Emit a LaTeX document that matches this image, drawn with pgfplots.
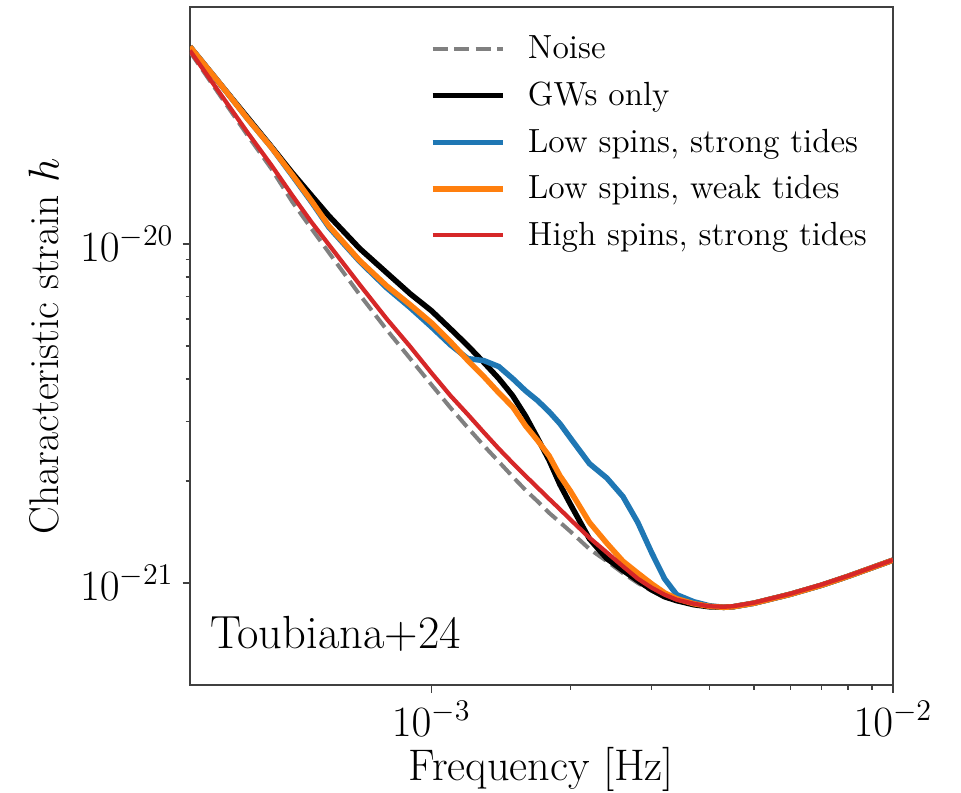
\documentclass[border=0pt]{standalone}
\usepackage{pgfplots}
\pgfplotsset{compat=1.18}
\usepackage{pgfplotstable}

\definecolor{tabblue}{HTML}{1F77B4}
\definecolor{taborange}{HTML}{FF7F0E}
\definecolor{tabred}{HTML}{D62728}
\definecolor{noisegray}{RGB}{128,128,128}

\pgfplotstableread{
f h
3e-4 3.69e-20
3.5e-4 2.72e-20
4e-4 2.09e-20
4.5e-4 1.67e-20
5e-4 1.33e-20
5.5e-4 1.11e-20
6e-4 9.43e-21
7e-4 7.08e-21
8e-4 5.59e-21
9e-4 4.59e-21
1e-3 3.85e-21
1.1e-3 3.29e-21
1.2e-3 2.87e-21
1.3e-3 2.54e-21
1.4e-3 2.28e-21
1.5e-3 2.06e-21
1.6e-3 1.88e-21
1.7e-3 1.74e-21
1.8e-3 1.61e-21
1.9e-3 1.51e-21
2.0e-3 1.42e-21
2.2e-3 1.26e-21
2.4e-3 1.16e-21
2.6e-3 1.07e-21
2.8e-3 1.00e-21
3.0e-3 9.49e-22
3.2e-3 9.11e-22
3.4e-3 8.87e-22
3.7e-3 8.63e-22
4.0e-3 8.51e-22
4.3e-3 8.48e-22
4.5e-3 8.51e-22
5e-3 8.72e-22
6e-3 9.27e-22
7e-3 9.85e-22
8e-3 1.047e-21
1e-2 1.168e-21
}\noisedata

\pgfplotstableread{
f h
3e-4 3.82e-20
3.5e-4 2.95e-20
4e-4 2.36e-20
4.5e-4 1.94e-20
5e-4 1.62e-20
5.5e-4 1.39e-20
6e-4 1.21e-20
7e-4 9.69e-21
8e-4 8.23e-21
9e-4 7.13e-21
1e-3 6.36e-21
1.1e-3 5.62e-21
1.2e-3 5.01e-21
1.3e-3 4.47e-21
1.4e-3 4.01e-21
1.5e-3 3.57e-21
1.6e-3 3.11e-21
1.7e-3 2.67e-21
1.8e-3 2.30e-21
1.9e-3 1.95e-21
2.0e-3 1.71e-21
2.2e-3 1.35e-21
2.4e-3 1.18e-21
2.6e-3 1.09e-21
2.8e-3 1.016e-21
3.0e-3 9.55e-22
3.2e-3 9.11e-22
3.4e-3 8.87e-22
3.7e-3 8.63e-22
4.0e-3 8.51e-22
4.3e-3 8.48e-22
4.5e-3 8.51e-22
5e-3 8.72e-22
6e-3 9.27e-22
7e-3 9.85e-22
8e-3 1.047e-21
1e-2 1.168e-21
}\gwdata

\pgfplotstableread{
f h
3e-4 3.82e-20
3.5e-4 2.95e-20
4e-4 2.34e-20
4.5e-4 1.93e-20
5e-4 1.59e-20
5.5e-4 1.33e-20
6e-4 1.12e-20
7e-4 8.87e-21
8e-4 7.43e-21
9e-4 6.49e-21
1e-3 5.70e-21
1.1e-3 5.04e-21
1.2e-3 4.59e-21
1.3e-3 4.53e-21
1.4e-3 4.35e-21
1.5e-3 4.01e-21
1.6e-3 3.69e-21
1.7e-3 3.45e-21
1.8e-3 3.20e-21
1.9e-3 2.95e-21
2.0e-3 2.68e-21
2.2e-3 2.25e-21
2.4e-3 2.04e-21
2.6e-3 1.80e-21
2.8e-3 1.51e-21
3.0e-3 1.23e-21
3.2e-3 1.03e-21
3.4e-3 9.24e-22
3.7e-3 8.81e-22
4.0e-3 8.57e-22
4.3e-3 8.48e-22
4.5e-3 8.51e-22
5e-3 8.72e-22
6e-3 9.27e-22
7e-3 9.85e-22
8e-3 1.047e-21
1e-2 1.168e-21
}\lowstrongdata

\pgfplotstableread{
f h
3e-4 3.82e-20
3.5e-4 2.95e-20
4e-4 2.34e-20
4.5e-4 1.93e-20
5e-4 1.60e-20
5.5e-4 1.34e-20
6e-4 1.13e-20
7e-4 8.93e-21
8e-4 7.53e-21
9e-4 6.62e-21
1e-3 5.86e-21
1.1e-3 5.15e-21
1.2e-3 4.53e-21
1.3e-3 4.06e-21
1.4e-3 3.64e-21
1.5e-3 3.31e-21
1.6e-3 2.91e-21
1.7e-3 2.63e-21
1.8e-3 2.37e-21
1.9e-3 2.07e-21
2.0e-3 1.87e-21
2.2e-3 1.51e-21
2.4e-3 1.31e-21
2.6e-3 1.16e-21
2.8e-3 1.07e-21
3.0e-3 9.95e-22
3.2e-3 9.36e-22
3.4e-3 8.99e-22
3.7e-3 8.69e-22
4.0e-3 8.54e-22
4.3e-3 8.48e-22
4.5e-3 8.51e-22
5e-3 8.72e-22
6e-3 9.27e-22
7e-3 9.85e-22
8e-3 1.047e-21
1e-2 1.168e-21
}\lowweakdata

\pgfplotstableread{
f h
3e-4 3.72e-20
3.5e-4 2.76e-20
4e-4 2.13e-20
4.5e-4 1.71e-20
5e-4 1.39e-20
5.5e-4 1.16e-20
6e-4 9.95e-21
7e-4 7.58e-21
8e-4 6.02e-21
9e-4 4.98e-21
1e-3 4.17e-21
1.1e-3 3.57e-21
1.2e-3 3.14e-21
1.3e-3 2.78e-21
1.4e-3 2.49e-21
1.5e-3 2.26e-21
1.6e-3 2.07e-21
1.7e-3 1.91e-21
1.8e-3 1.77e-21
1.9e-3 1.65e-21
2.0e-3 1.54e-21
2.2e-3 1.36e-21
2.4e-3 1.23e-21
2.6e-3 1.12e-21
2.8e-3 1.03e-21
3.0e-3 9.69e-22
3.2e-3 9.24e-22
3.4e-3 8.93e-22
3.7e-3 8.69e-22
4.0e-3 8.54e-22
4.3e-3 8.51e-22
4.5e-3 8.54e-22
5e-3 8.75e-22
6e-3 9.30e-22
7e-3 9.89e-22
8e-3 1.05e-21
1e-2 1.17e-21
}\highstrongdata

\begin{document}
\begin{tikzpicture}
\begin{axis}[
  name=ax,
  xmode=log, ymode=log,
  scale only axis,
  width=281.2pt, height=271.2pt,
  xmin=3e-4, xmax=1e-2, ymin=5e-22, ymax=5e-20,
  xtick={1e-3,1e-2}, ytick={1e-21,1e-20},
  tick align=outside, tick pos=left,
  major tick length=3pt, minor tick length=1.8pt,
  axis line style={black!75, line width=0.6pt},
  every tick/.style={black!75, line width=0.6pt},
  tick label style={font=\fontsize{16.5}{18}\selectfont},
  xlabel={Frequency [Hz]},
  ylabel={Characteristic strain $h$},
  every axis x label/.style={at={(axis description cs:0.5,0)}, anchor=base, yshift=-38pt, font=\fontsize{17.7}{20}\selectfont},
  every axis y label/.style={at={(axis description cs:-0.2077,0.5)}, anchor=center, rotate=90, font=\fontsize{16.6}{18}\selectfont},
  legend cell align=left,
  legend style={at={(rel axis cs:0.33,0.973)}, anchor=north west, draw=none, fill=none,
    font=\fontsize{13.4}{15}\selectfont, row sep=3.8pt, column sep=7pt},
  legend image code/.code={\draw[#1] (0pt,0pt) -- (28pt,0pt);},
]
\addplot[noisegray, line width=1.6pt, dash pattern=on 6pt off 2.6pt] table[x=f,y=h] {\noisedata};
\addlegendentry{Noise}
\addplot[black, line width=2.2pt] table[x=f,y=h] {\gwdata};
\addlegendentry{GWs only}
\addplot[tabblue, line width=2.2pt] table[x=f,y=h] {\lowstrongdata};
\addlegendentry{Low spins, strong tides}
\addplot[taborange, line width=2.2pt] table[x=f,y=h] {\lowweakdata};
\addlegendentry{Low spins, weak tides}
\addplot[tabred, line width=1.7pt] table[x=f,y=h] {\highstrongdata};
\addlegendentry{High spins, strong tides}
\node[anchor=base west, inner sep=0pt, font=\fontsize{18.6}{21}\selectfont] at (rel axis cs:0.028,0.0546) {Toubiana+24};
\end{axis}
\pgfresetboundingbox
\path[use as bounding box] ([xshift=-76pt,yshift=-43.2pt]ax.south west) rectangle ([xshift=27.2pt,yshift=2.8pt]ax.north east);
\end{tikzpicture}
\end{document}
